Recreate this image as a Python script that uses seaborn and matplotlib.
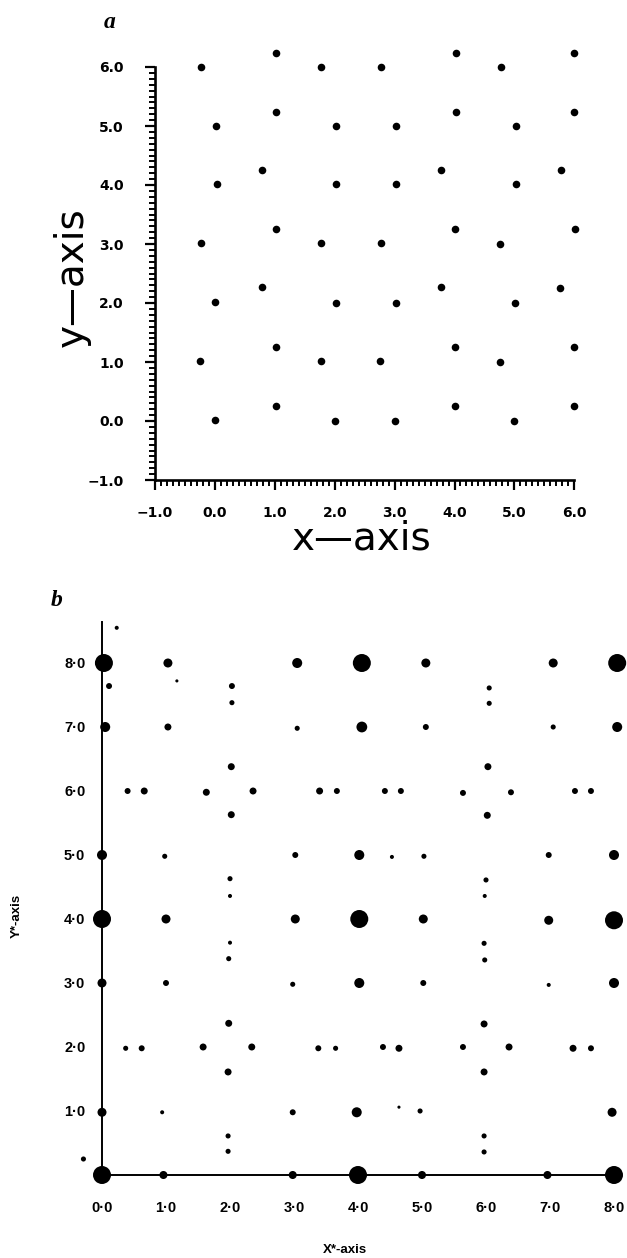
import numpy as np
import matplotlib
matplotlib.use("Agg")
import matplotlib.pyplot as plt
import seaborn as sns
from matplotlib.ticker import FixedLocator

# ---- panel a : real-space lattice points ----
a_x = [-0.23, 1.77, 2.77, 4.77, 1.02, 4.02, 6.00,
       0.02, 2.03, 3.03, 5.02, 1.02, 4.02, 6.00,
       0.03, 2.03, 3.03, 5.03, 0.78, 3.78, 5.78,
       -0.23, 1.77, 2.77, 4.76, 1.02, 4.01, 6.01,
       0.00, 2.02, 3.02, 5.01, 0.78, 3.77, 5.76,
       -0.25, 1.77, 2.76, 4.76, 1.02, 4.00, 6.00,
       0.00, 2.00, 3.00, 5.00, 1.02, 4.00, 6.00]
a_y = [6.00, 6.00, 6.00, 6.00, 6.24, 6.24, 6.24,
       5.00, 5.00, 5.00, 5.00, 5.24, 5.24, 5.24,
       4.02, 4.02, 4.02, 4.02, 4.25, 4.25, 4.25,
       3.02, 3.02, 3.02, 3.00, 3.25, 3.25, 3.25,
       2.02, 2.00, 2.00, 2.00, 2.27, 2.27, 2.25,
       1.02, 1.02, 1.02, 1.00, 1.25, 1.25, 1.25,
       0.02, 0.00, 0.00, 0.00, 0.25, 0.25, 0.25]
a_ticks = [-1, 0, 1, 2, 3, 4, 5, 6]
a_ticklabels = ["\u22121.0", "0.0", "1.0", "2.0", "3.0", "4.0", "5.0", "6.0"]

# ---- panel b : reciprocal-space spots (x*, y*, relative intensity) ----
b_x = [0.03, 4.06, 8.05, 0.00, 4.02, 8.00, 0.00, 4.00, 8.00,
       1.03, 3.05, 5.06, 7.05, 0.05, 4.06, 8.05, 0.00, 4.02, 8.00,
       1.00, 3.02, 5.02, 6.98, 0.00, 4.02, 8.00, 0.00, 3.98, 7.97,
       0.96, 2.98, 5.00, 6.96,
       1.03, 3.05, 5.06, 7.05, 0.98, 3.02, 5.03, 6.98,
       1.00, 2.98, 5.02, 6.98, 0.94, 2.98, 4.97,
       0.23, 1.17, 0.11, 4.53, 4.64, -0.29,
       2.03, 2.03, 2.02, 2.02, 2.00, 2.00, 2.00, 1.98, 1.98, 1.97, 1.97, 1.97,
       6.05, 6.05, 6.03, 6.02, 6.00, 5.98, 5.97, 5.98, 5.97, 5.97, 5.97, 5.97,
       0.40, 0.66, 1.63, 2.36, 3.40, 3.67, 4.42, 4.67, 5.64, 6.39, 7.39, 7.64,
       0.37, 0.62, 1.58, 2.34, 3.38, 3.65, 4.39, 4.64, 5.64, 6.36, 7.36, 7.64]
b_y = [8.00, 8.00, 8.00, 4.00, 4.00, 3.98, 0.00, 0.00, 0.00,
       8.00, 8.00, 8.00, 8.00, 7.00, 7.00, 7.00, 5.00, 5.00, 5.00,
       4.00, 4.00, 4.00, 3.98, 3.00, 3.00, 3.00, 0.98, 0.98, 0.98,
       0.00, 0.00, 0.00, 0.00,
       7.00, 6.98, 7.00, 7.00, 4.98, 5.00, 4.98, 5.00,
       3.00, 2.98, 3.00, 2.97, 0.98, 0.98, 1.00,
       8.55, 7.72, 7.64, 4.97, 1.06, 0.25,
       7.64, 7.38, 6.38, 5.63, 4.63, 4.36, 3.63, 3.38, 2.37, 1.61, 0.61, 0.37,
       7.61, 7.37, 6.38, 5.62, 4.61, 4.36, 3.62, 3.36, 2.36, 1.61, 0.61, 0.36,
       6.00, 6.00, 5.98, 6.00, 6.00, 6.00, 6.00, 6.00, 5.97, 5.98, 6.00, 6.00,
       1.98, 1.98, 2.00, 2.00, 1.98, 1.98, 2.00, 1.98, 2.00, 2.00, 1.98, 1.98]
b_int = [100, 100, 100, 100, 100, 100, 100, 100, 100,
         25, 31, 25, 25, 31, 36, 31, 31, 31, 31,
         25, 25, 25, 25, 25, 31, 31, 25, 31, 25,
         20, 20, 20, 20,
         15, 8, 11, 8, 8, 11, 8, 11,
         11, 8, 11, 5, 5, 11, 8,
         5, 3, 11, 5, 3, 8,
         11, 8, 15, 15, 8, 5, 5, 8, 15, 15, 8, 8,
         8, 8, 15, 15, 8, 5, 8, 8, 15, 15, 8, 8,
         11, 15, 15, 15, 15, 11, 11, 11, 11, 11, 11, 11,
         8, 11, 15, 15, 11, 8, 11, 15, 11, 15, 15, 11]
b_ticks = [0, 1, 2, 3, 4, 5, 6, 7, 8]
b_ticklabels = ["0\u00b70", "1\u00b70", "2\u00b70", "3\u00b70", "4\u00b70",
                "5\u00b70", "6\u00b70", "7\u00b70", "8\u00b70"]

sns.set_style("white")
plt.rcParams["text.color"] = "black"
plt.rcParams["xtick.color"] = "black"
plt.rcParams["ytick.color"] = "black"

W, H = 627, 1258
fig = plt.figure(figsize=(W / 100, H / 100), dpi=100)

# ---------------- panel a ----------------
ux, uy = 59.9, 59.0
ax_a = fig.add_axes([155 / W, 1 - 480 / H, 7.1 * ux / W, 7.35 * uy / H])
ax_a.patch.set_alpha(0)
sns.scatterplot(x=a_x, y=a_y, color="black", s=30, linewidth=0,
                clip_on=False, zorder=3, ax=ax_a)
ax_a.set_xlim(-1.0, 6.1)
ax_a.set_ylim(-1.0, 6.35)
for side in ["top", "right"]:
    ax_a.spines[side].set_visible(False)
for side in ["left", "bottom"]:
    ax_a.spines[side].set_linewidth(1.9)
    ax_a.spines[side].set_color("black")
    ax_a.spines[side].set_bounds(-1, 6)
ax_a.set_xticks(a_ticks, a_ticklabels)
ax_a.set_yticks(a_ticks, a_ticklabels)
minor = np.round(np.arange(-1, 6.001, 0.1), 1)
ax_a.xaxis.set_minor_locator(FixedLocator(minor))
ax_a.yaxis.set_minor_locator(FixedLocator(minor))
ax_a.tick_params(which="major", direction="out", length=7.5, width=1.6,
                 color="black", labelcolor="black", labelsize=10)
ax_a.tick_params(which="minor", direction="out", length=4.5, width=1.4,
                 color="black")
ax_a.tick_params(axis="y", which="major", pad=15, left=True)
ax_a.tick_params(axis="y", which="minor", left=True)
ax_a.tick_params(axis="x", which="major", pad=11, bottom=True)
ax_a.tick_params(axis="x", which="minor", bottom=True)
for lab in ax_a.get_xticklabels() + ax_a.get_yticklabels():
    lab.set_fontweight("bold")
    lab.set_family("DejaVu Sans")

# ---------------- panel b ----------------
u = 64.0
ax_b = fig.add_axes([(102 - 0.5 * u) / W, 1 - (1175 + 0.3 * u) / H,
                     8.8 * u / W, 9.0 * u / H])
ax_b.patch.set_alpha(0)
sns.scatterplot(x=b_x, y=b_y, size=b_int, sizes=(0, 168), size_norm=(0, 100),
                color="black", linewidth=0, legend=False, clip_on=False,
                zorder=3, ax=ax_b)
ax_b.set_xlim(-0.5, 8.3)
ax_b.set_ylim(-0.3, 8.7)
for side in ["top", "right"]:
    ax_b.spines[side].set_visible(False)
ax_b.spines["left"].set_position(("data", 0))
ax_b.spines["bottom"].set_position(("data", 0))
ax_b.spines["left"].set_bounds(0, 8.64)
ax_b.spines["bottom"].set_bounds(0, 8.0)
for side in ["left", "bottom"]:
    ax_b.spines[side].set_linewidth(1.4)
    ax_b.spines[side].set_color("black")
ax_b.set_xticks(b_ticks, b_ticklabels)
ax_b.set_yticks(b_ticks[1:], b_ticklabels[1:])
ax_b.tick_params(length=0, labelsize=10.5, labelcolor="black")
ax_b.tick_params(axis="x", pad=19)
ax_b.tick_params(axis="y", pad=12)
for lab in ax_b.get_xticklabels() + ax_b.get_yticklabels():
    lab.set_fontweight("bold")
    lab.set_family("Liberation Sans")

# ---------------- labels ----------------
serif = dict(family="Liberation Serif", style="italic", weight="bold", size=17)
fig.text(110 / W, 1 - 22 / H, "a", ha="center", va="center", **serif)
fig.text(57 / W, 1 - 600 / H, "b", ha="center", va="center", **serif)

fig.text(362 / W, 1 - 550 / H, "x\u2014axis", ha="center", va="baseline",
         size=28, family="DejaVu Sans")
fig.text(83 / W, 1 - 277 / H, "y\u2014axis", ha="center", va="baseline",
         rotation=90, rotation_mode="anchor", size=28, family="DejaVu Sans")

fig.text(17 / W, 1 - 916 / H, "Y*-axis", ha="center", va="center",
         rotation=90, size=9.5, weight="bold", family="Liberation Sans")
fig.text(345 / W, 1 - 1250 / H, "X*-axis", ha="center", va="center",
         size=9.5, weight="bold", family="Liberation Sans")

fig.savefig("out.png", dpi=100, facecolor="white")
